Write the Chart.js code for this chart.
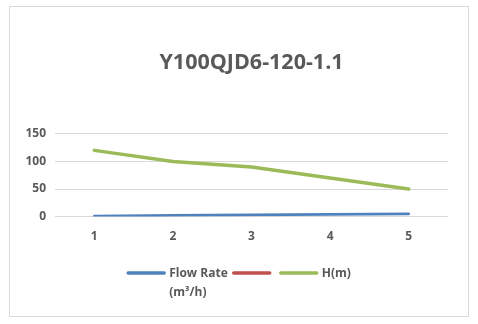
<!DOCTYPE html>
<html>
<head>
<meta charset="utf-8">
<script src="https://cdn.jsdelivr.net/npm/chart.js@4/dist/chart.umd.min.js"></script>
<style>
  html, body { margin: 0; padding: 0; background: #fff; }
  #box { position: absolute; left: 9px; top: 6px; width: 458px; height: 309px; border: 1px solid #d9d9d9; }
  canvas { display: block; }
</style>
</head>
<body>
<div id="box"><canvas id="pumpChart" width="458" height="309"></canvas></div>
<script>
// Pump curve data
const categories = ['1', '2', '3', '4', '5'];
const flowRate = [1, 2, 3, 4, 5];
const power = [null, null, null, null, null];
const head = [120, 100, 90, 70, 50];
const seriesNames = [['Flow Rate', '(m³/h)'], [''], ['H(m)']];
const yTicks = [0, 50, 100, 150];

const textColor = '#595959';
const fontFamily = '"Open Sans", "Liberation Sans", sans-serif';

// Excel-style legend at the bottom, with wrapped labels
const bottomLegend = {
    id: 'bottomLegend',
    afterDraw(chart) {
        const ctx = chart.ctx;
        const lineLen = 38, gap = 4, itemGap = 5, lineH = 19;
        const top = 266;
        ctx.save();
        ctx.font = 'bold 12px ' + fontFamily;
        const items = chart.data.datasets.map(function(ds, i) {
            const lines = seriesNames[i];
            const w = Math.max.apply(null, lines.map(function(t) { return ctx.measureText(t).width; }));
            return { color: ds.borderColor, lines: lines, width: lineLen + gap + w };
        });
        const total = items.reduce(function(a, it) { return a + it.width; }, 0) + itemGap * (items.length - 1);
        let x = chart.width / 2 - total / 2;
        items.forEach(function(it) {
            ctx.strokeStyle = it.color;
            ctx.lineWidth = 3.5;
            ctx.lineCap = 'round';
            ctx.beginPath();
            ctx.moveTo(x + 1, top);
            ctx.lineTo(x + lineLen - 1, top);
            ctx.stroke();
            ctx.fillStyle = textColor;
            ctx.textAlign = 'left';
            ctx.textBaseline = 'middle';
            it.lines.forEach(function(t, k) {
                ctx.fillText(t, x + lineLen + gap, top + 1 + k * lineH);
            });
            x += it.width + itemGap;
        });
        ctx.restore();
    }
};

const ctx = document.getElementById('pumpChart');
new Chart(ctx, {
    type: 'line',
    data: {
        labels: categories,
        datasets: [
            { label: 'Flow Rate (m³/h)', data: flowRate, borderColor: '#4F81BD', backgroundColor: '#4F81BD', borderWidth: 2.75 },
            { label: '', data: power, borderColor: '#C0504D', backgroundColor: '#C0504D', borderWidth: 2.75 },
            { label: 'H(m)', data: head, borderColor: '#9BBB59', backgroundColor: '#9BBB59', borderWidth: 3.5 }
        ]
    },
    options: {
        responsive: false,
        animation: false,
        layout: { padding: { left: 0, right: 20, top: 0, bottom: 59 } },
        elements: {
            point: { radius: 0 },
            line: { tension: 0, borderCapStyle: 'round', borderJoinStyle: 'round' }
        },
        plugins: {
            legend: { display: false },
            tooltip: { enabled: false },
            title: {
                display: true,
                fullSize: false,
                text: 'Y100QJD6-120-1.1',
                color: textColor,
                font: { family: fontFamily, size: 21.5, weight: 'bold' },
                padding: { top: 43, bottom: 58 }
            }
        },
        scales: {
            x: {
                offset: true,
                grid: { display: false, drawTicks: false },
                border: { display: false },
                ticks: { color: textColor, padding: 13, font: { family: fontFamily, size: 12, weight: 'bold' } }
            },
            y: {
                min: 0,
                max: 150,
                afterFit: function(scale) { scale.width = 45; },
                afterBuildTicks: function(scale) { scale.ticks = yTicks.map(function(v) { return { value: v }; }); },
                grid: { color: '#d9d9d9', drawTicks: false, lineWidth: 1 },
                border: { display: false },
                ticks: { color: textColor, padding: 9, font: { family: fontFamily, size: 12, weight: 'bold' } }
            }
        }
    },
    plugins: [bottomLegend]
});
</script>
</body>
</html>
